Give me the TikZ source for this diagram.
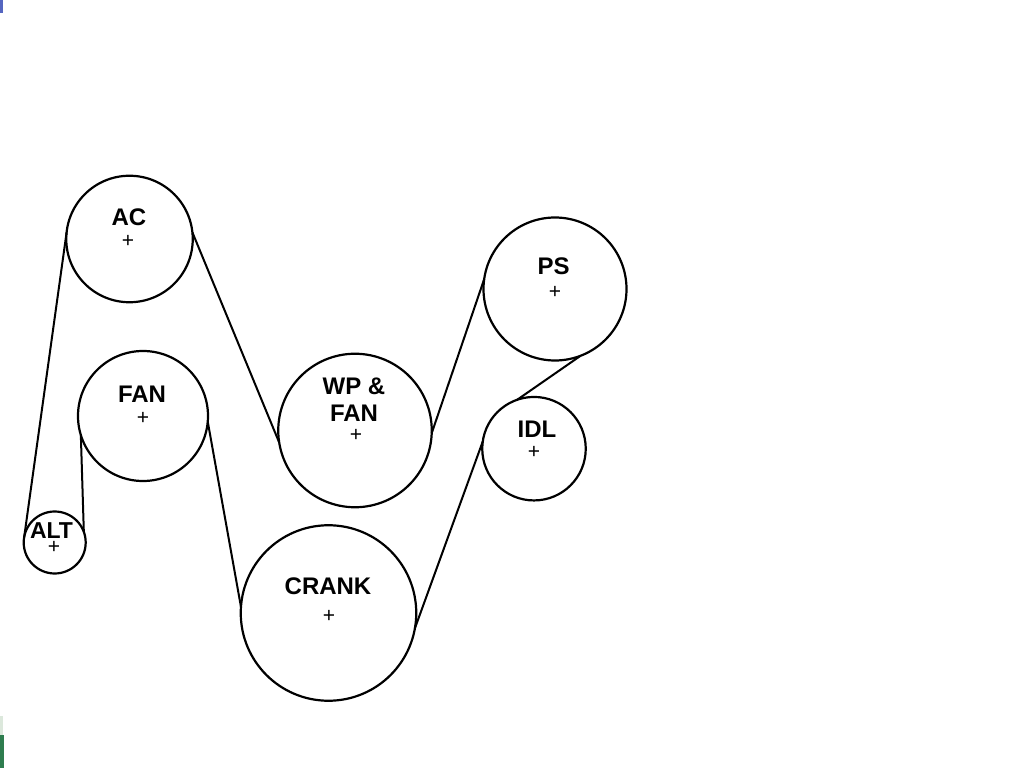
\documentclass[tikz,border=0pt]{standalone}
\usepackage{fontspec}
\setmainfont{Liberation Sans}
\definecolor{sliverblue}{HTML}{5566C0}
\definecolor{slivergreen}{HTML}{2E7D4F}
\definecolor{sliverpale}{HTML}{DCE8DC}
\tikzset{
  pulley/.style={draw=black,line width=2.2pt,circle,inner sep=0pt,outer sep=0pt,minimum size=#1},
  belt/.style={draw=black,line width=2pt},
  lbl/.style={font=\bfseries\fontsize{24}{27}\selectfont,inner sep=0pt,outer sep=0pt,text=black,align=center},
  hub/.style={font=\fontsize{21}{21}\selectfont,inner sep=0pt,outer sep=0pt,text=black}
}
\begin{document}
\begin{tikzpicture}[x=1pt,y=1pt]
\useasboundingbox (0,0) rectangle (1024,768);
\fill[white] (0,0) rectangle (1024,768);
\fill[sliverblue] (0,755) rectangle (3,768);
\fill[sliverpale] (0,33) rectangle (3,52);
\fill[slivergreen] (0,0) rectangle (4,33);
% pulleys
\node[pulley=126.5pt] (ac) at (129.5,529) {};
\node[pulley=130pt] (fan) at (143,352) {};
\node[pulley=62pt] (alt) at (54.7,225.5) {};
\node[pulley=153.5pt] (wp) at (355,337.5) {};
\node[pulley=175.5pt] (crank) at (328.5,155) {};
\node[pulley=143pt] (ps) at (555,479) {};
\node[pulley=103.5pt] (idl) at (534,319.3) {};
% belt
\draw[belt] (alt.170) -- (ac.174);
\draw[belt] (alt.20) -- (fan.197);
\draw[belt] (fan.-5) -- (crank.176);
\draw[belt] (ac.6) -- (wp.189);
\draw[belt] (wp.-2) -- (ps.172);
\draw[belt] (crank.-10) -- (idl.172);
\draw[belt] (idl.109) -- (ps.-69);
% labels
\node[lbl] (tac) at (129,551) {AC};
\node[lbl] (tfan) at (142,374) {FAN};
\node[lbl,font=\bfseries\fontsize{23}{27}\selectfont] (talt) at (51.5,237) {ALT};
\node[lbl] (twp) at (354,368) {WP \&\\FAN};
\node[lbl] (tcrank) at (328,182) {CRANK};
\node[lbl] (tps) at (553.5,502) {PS};
\node[lbl] (tidl) at (537,339) {IDL};
% hub marks
\node[hub] (hac) at (128,527) {+};
\node[hub] (hfan) at (143,350) {+};
\node[hub] (halt) at (54,221) {+};
\node[hub] (hwp) at (356,333) {+};
\node[hub] (hcrank) at (329,152) {+};
\node[hub] (hps) at (555,476) {+};
\node[hub] (hidl) at (534,316) {+};
\end{tikzpicture}
\end{document}
